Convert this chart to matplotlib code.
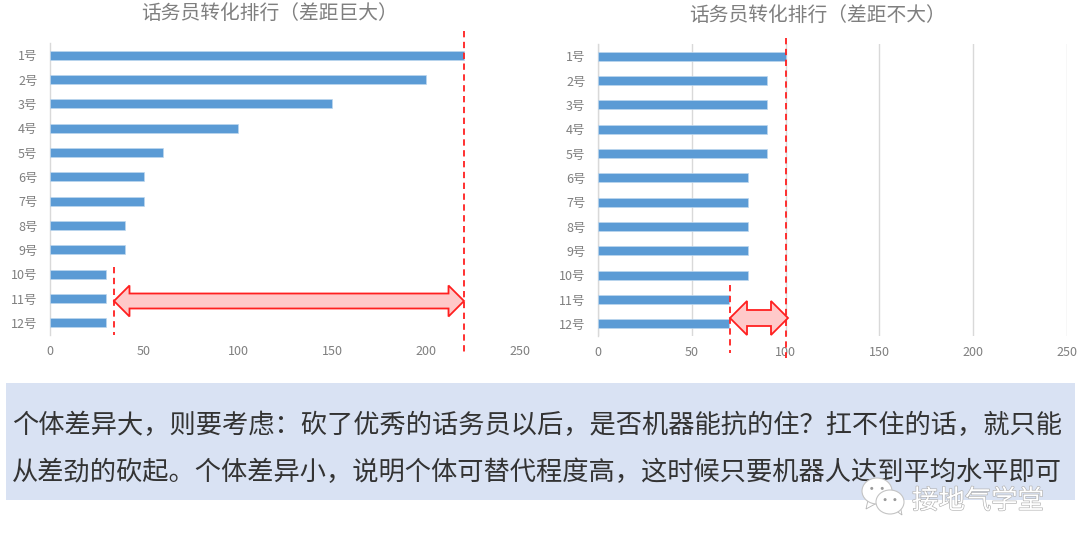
import matplotlib
matplotlib.use('Agg')
import matplotlib.pyplot as plt
import matplotlib.patheffects as pe
from matplotlib.patches import Ellipse, Polygon, Rectangle

plt.rcParams['font.family'] = ['Noto Sans CJK SC', 'DejaVu Sans']

WIDTH = 1080
HEIGHT = 547
BAR_COLOR = '#5b9bd5'
TEXT_COLOR = '#7f7f7f'
GRID_COLOR = '#d9d9d9'
RED = '#ff2020'

# data
names = ['1号', '2号', '3号', '4号', '5号', '6号', '7号', '8号', '9号', '10号', '11号', '12号']
values_big_gap = [220, 200, 150, 100, 60, 50, 50, 40, 40, 30, 30, 30]
values_small_gap = [100, 90, 90, 90, 90, 80, 80, 80, 80, 80, 70, 70]
x_ticks = [0, 50, 100, 150, 200, 250]
title_big_gap = '话务员转化排行（差距巨大）'
title_small_gap = '话务员转化排行（差距不大）'
note_line_1 = '个体差异大，则要考虑：砍了优秀的话务员以后，是否机器能抗的住？扛不住的话，就只能'
note_line_2 = '从差劲的砍起。个体差异小，说明个体可替代程度高，这时候只要机器人达到平均水平即可'
watermark = '接地气学堂'


def bar_chart(fig, box, values, show_grid):
    left, top, right, bottom = box
    ax = fig.add_axes([left / WIDTH, 1 - bottom / HEIGHT, (right - left) / WIDTH, (bottom - top) / HEIGHT])
    ax.barh(names, values, height=0.37, color=BAR_COLOR, edgecolor='#bdd7ee', linewidth=0.5, zorder=3)
    ax.set_xlim(0, 250)
    ax.set_ylim(len(names) - 0.5, -0.5)
    ax.set_xticks(x_ticks)
    ax.tick_params(length=0, colors=TEXT_COLOR, labelsize=9)
    ax.tick_params(axis='x', pad=7)
    ax.tick_params(axis='y', pad=9)
    for side in ['top', 'right', 'bottom']:
        ax.spines[side].set_visible(False)
    ax.spines['left'].set_color(GRID_COLOR)
    ax.spines['left'].set_linewidth(1)
    if show_grid:
        ax.grid(axis='x', color=GRID_COLOR, linewidth=1, zorder=0)
    return ax


def double_arrow(ax, x0, x1, y, body, head, head_len):
    pts = [(x0, y), (x0 + head_len, y - head), (x0 + head_len, y - body),
           (x1 - head_len, y - body), (x1 - head_len, y - head), (x1, y),
           (x1 - head_len, y + head), (x1 - head_len, y + body),
           (x0 + head_len, y + body), (x0 + head_len, y + head)]
    ax.add_patch(Polygon(pts, closed=True, facecolor='#ffc9c9', edgecolor=RED, linewidth=1.3, zorder=5))


def dashed(ax, x, y0, y1):
    ax.plot([x, x], [y0, y1], color=RED, linewidth=1.3, linestyle=(0, (3.5, 2.5)), zorder=6)


def bubble(ax, cx, cy, rx, ry, tail):
    ax.add_patch(Polygon(tail, closed=True, facecolor='white', edgecolor='#b5b5b5', linewidth=0.6, zorder=7))
    ax.add_patch(Ellipse((cx, cy), rx * 2, ry * 2, facecolor='white', edgecolor='#c4c4c4', linewidth=0.8, zorder=7))
    for dx in (-rx * 0.35, rx * 0.35):
        ax.add_patch(Ellipse((cx + dx, cy - ry * 0.2), 3, 3, facecolor='#9a9a9a', edgecolor='none', zorder=8))


fig = plt.figure(figsize=(WIDTH / 100, HEIGHT / 100), dpi=100, facecolor='white')

bar_chart(fig, (50, 43, 520, 335), values_big_gap, False)
bar_chart(fig, (598, 44, 1067, 336), values_small_gap, True)

# 标注层，用像素坐标
over = fig.add_axes([0, 0, 1, 1], zorder=10)
over.set_xlim(0, WIDTH)
over.set_ylim(HEIGHT, 0)
over.axis('off')

over.text(270, 13, title_big_gap, color=TEXT_COLOR, fontsize=14.2, ha='center', va='center')
over.text(818, 15, title_small_gap, color=TEXT_COLOR, fontsize=14.2, ha='center', va='center')

dashed(over, 464, 31, 353)
dashed(over, 114, 267, 335)
dashed(over, 786, 38, 358)
dashed(over, 730, 285, 353)
double_arrow(over, 114, 464, 301, 7.5, 15.5, 15.5)
double_arrow(over, 730, 788, 318, 8, 17, 17)

over.add_patch(Rectangle((6, 383), 1069, 117, facecolor='#d9e2f3', edgecolor='none', zorder=1))
over.text(12, 426, note_line_1, color='#333333', fontsize=18.9, ha='left', va='center', zorder=2)
over.text(12, 473, note_line_2, color='#333333', fontsize=18.9, ha='left', va='center', zorder=2)

# 水印
bubble(over, 877, 491, 15, 13, [(868, 500), (866, 509), (877, 503)])
bubble(over, 890, 502, 14, 12, [(895, 510), (902, 515), (900, 505)])
over.text(978, 501, watermark, color='white', fontsize=19, ha='center', va='center', zorder=8,
          path_effects=[pe.withStroke(linewidth=0.9, foreground='#b0b0b0')])

fig.savefig('out.png', dpi=100)
